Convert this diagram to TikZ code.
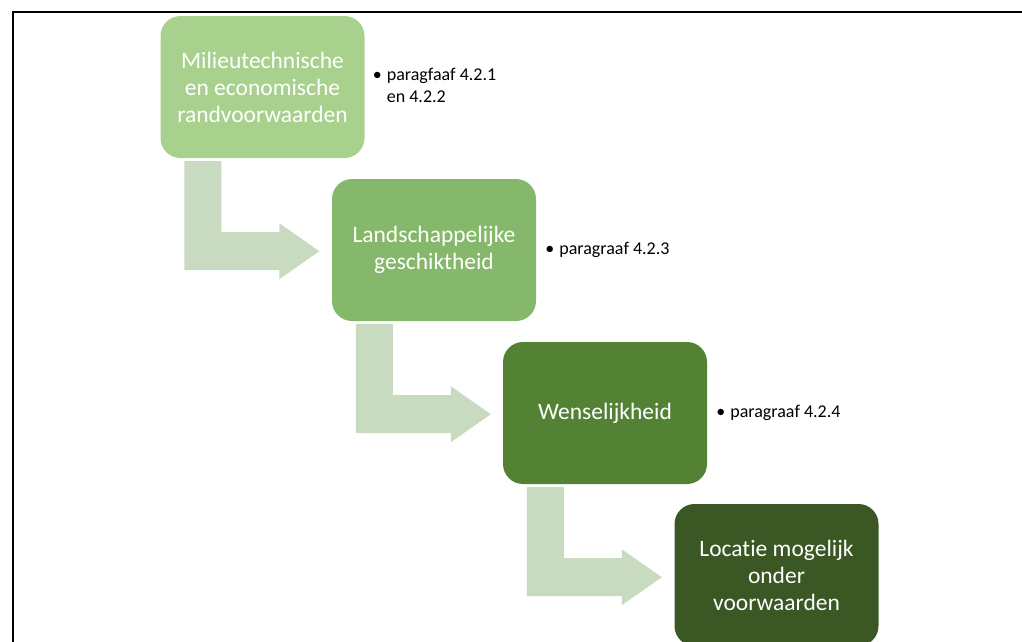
\documentclass[tikz,border=0pt]{standalone}
\usepackage{fontspec}
\setmainfont{Carlito}[RawFeature=-liga]
\usetikzlibrary{positioning}

\definecolor{stepone}{HTML}{A9D18E}
\definecolor{steptwo}{HTML}{85B86A}
\definecolor{stepthree}{HTML}{548235}
\definecolor{stepfour}{HTML}{3A5724}
\definecolor{bendgreen}{HTML}{C8DBC0}

\begin{document}
\begin{tikzpicture}
[%%%%%%%%%%%%%%%%%%%%%%%%%%%%%%
x=1pt,y=-1pt,
box/.style={rectangle,rounded corners=20pt,minimum width=204pt,minimum height=142pt,
  align=center,text=white,font=\fontsize{23.5}{27}\selectfont},
note/.style={inner sep=0pt,align=left,font=\fontsize{18}{21.5}\selectfont},
bentarrow/.style={fill=bendgreen},
]%%%%%%%%%%%%%%%%%%%%%%%%%%%%%%
\useasboundingbox (0,0) rectangle (1022,641);
\draw[line width=2pt] (1040,11.5) -- (12.5,11.5) -- (12.5,660);

\node[box,fill=stepone] (milieu) at (262.5,87){Milieutechnische\\en economische\\randvoorwaarden};
\node[box,fill=steptwo] (landschap) at (434,250){Landschappelijke\\geschiktheid};
\node[box,fill=stepthree] (wens) at (605,413){Wenselijkheid};
\node[box,fill=stepfour] (locatie) at (776.5,575){Locatie mogelijk\\onder\\voorwaarden};

\node[note,right=8pt of milieu] (par1){\begin{tabular}{@{}l@{\hspace{5pt}}l@{}}\textbullet&paragfaaf 4.2.1\\&en 4.2.2\end{tabular}};
\node[note,right=9pt of landschap] (par2){\begin{tabular}{@{}l@{\hspace{5pt}}l@{}}\textbullet&paragraaf 4.2.3\end{tabular}};
\node[note,right=9pt of wens] (par3){\begin{tabular}{@{}l@{\hspace{5pt}}l@{}}\textbullet&paragraaf 4.2.4\end{tabular}};

% bent arrows
\foreach \a in {milieu,landschap,wens}{
\fill[bentarrow] ([shift={(24,3)}]\a.south west) -- ++(37,0) -- ++(0,71) -- ++(58,0)
  -- ++(0,-9) -- ++(40,28) -- ++(-40,28) -- ++(0,-9) -- ++(-95,0) -- cycle;
}
\end{tikzpicture}
\end{document}
